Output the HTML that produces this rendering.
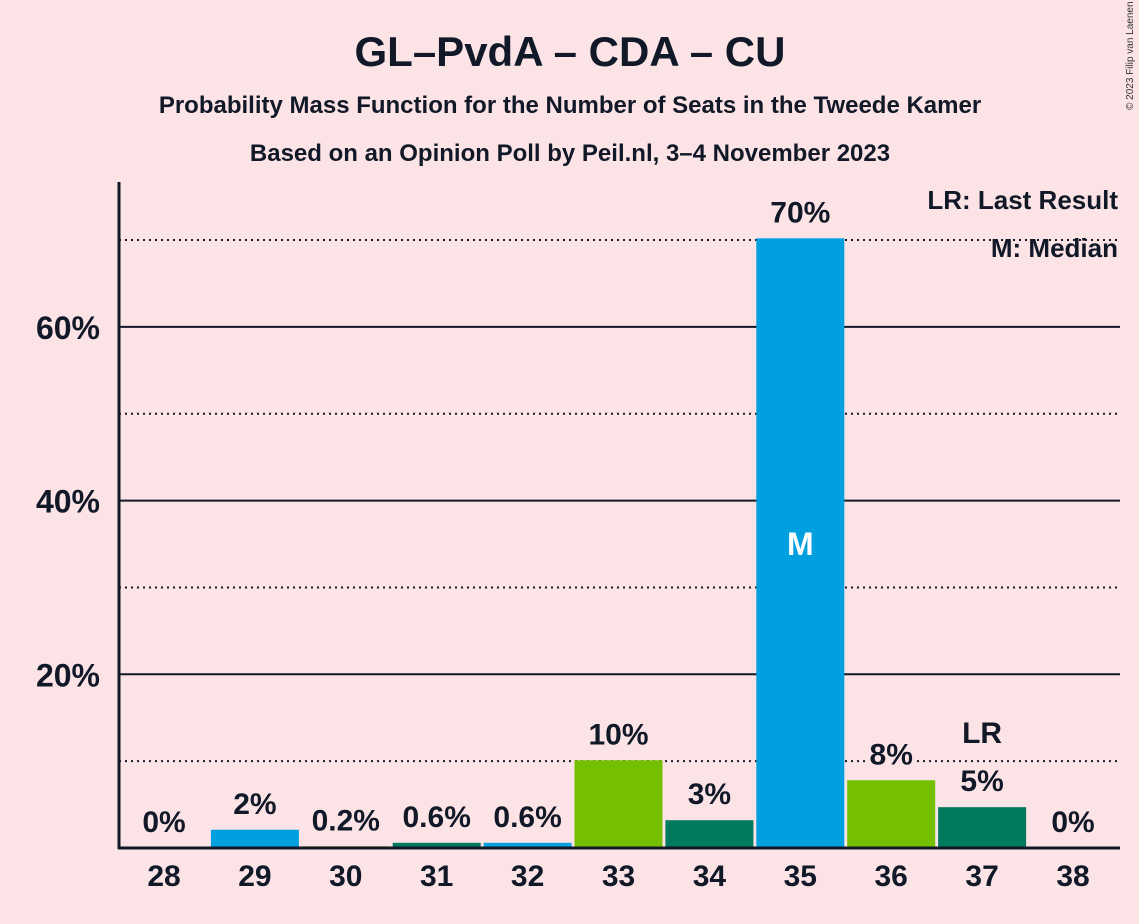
<!DOCTYPE html>
<html><head><meta charset="utf-8"><style>
body{margin:0;background:#FCE4E6;}
svg{display:block;font-family:"Liberation Sans",sans-serif;}
</style></head><body>
<svg id="c" width="1139" height="924">
<rect width="1139" height="924" fill="#FCE4E6"/>
<text x="570" y="66" text-anchor="middle" font-size="42" font-weight="bold" fill="#111827">GL–PvdA – CDA – CU</text>
<text x="570" y="113" text-anchor="middle" font-size="24" font-weight="bold" fill="#111827">Probability Mass Function for the Number of Seats in the Tweede Kamer</text>
<text x="570" y="161" text-anchor="middle" font-size="24" font-weight="bold" fill="#111827">Based on an Opinion Poll by Peil.nl, 3–4 November 2023</text>
<text x="1133" y="110" font-size="10" fill="#333" transform="rotate(-90 1133 110)">© 2023 Filip van Laenen</text>
<g id="grid"></g><g id="bars"></g><g id="labels"></g>
<text x="1118" y="209" text-anchor="end" font-size="26" font-weight="bold" fill="#111827">LR: Last Result</text>
<text x="1118" y="257" text-anchor="end" font-size="26" font-weight="bold" fill="#111827">M: Median</text>
<line x1="119" y1="182" x2="119" y2="849" stroke="#111827" stroke-width="3"/>
<line x1="118" y1="848" x2="1120" y2="848" stroke="#111827" stroke-width="3"/>
</svg>
<script>
const categories=[28,29,30,31,32,33,34,35,36,37,38];
const values=[0,2.1,0.2,0.6,0.6,10.1,3.2,70.2,7.8,4.7,0];
const valueLabels=["0%","2%","0.2%","0.6%","0.6%","10%","3%","70%","8%","5%","0%"];
const colorKeys=["b","b","g","d","b","g","d","b","g","d","b"];
const yTicks=[20,40,60];
const yMinor=[10,30,50,70];
const medianSeat=35, lastResultSeat=37;
const colors={b:"#009FE0",g:"#73BF00",d:"#007A5E"};
const NS="http://www.w3.org/2000/svg";
const y=v=>848-v*8.685;
const x=i=>164+i*90.9;
function mk(t,a,p){const e=document.createElementNS(NS,t);for(const k in a)e.setAttribute(k,a[k]);document.getElementById(p).appendChild(e);return e;}
function labelWithBg(txt,cx,by,size){
 const t=mk("text",{x:cx,y:by,"text-anchor":"middle","font-size":size,"font-weight":"bold",fill:"#111827"},"labels");t.textContent=txt;
 const bb=t.getBBox();
 const r=mk("rect",{x:bb.x-4,y:bb.y,width:bb.width+8,height:bb.height,fill:"#FCE4E6"},"labels");
 
 
 document.getElementById("labels").appendChild(t);
 return t;
}
yMinor.forEach(v=>{const l=mk("line",{x1:119,x2:1120,y1:y(v),y2:y(v),stroke:"#111827","stroke-width":2,"stroke-dasharray":"2 4"},"grid");

});
yTicks.forEach(v=>{const l=mk("line",{x1:119,x2:1120,y1:y(v),y2:y(v),stroke:"#111827","stroke-width":2},"grid");


const t=mk("text",{x:100,y:y(v)+12,"text-anchor":"end","font-size":32,"font-weight":"bold",fill:"#111827"},"labels");t.textContent=v+"%";

});
categories.forEach((c,i)=>{
 if(values[i]>0){const r=mk("rect",{x:x(i)-44,y:y(values[i]),width:88,height:848-y(values[i]),fill:colors[colorKeys[i]]},"bars");
 
 }
 const t=labelWithBg(valueLabels[i],x(i),y(values[i])-16,30);
 
 
 const xl=mk("text",{x:x(i),y:886,"text-anchor":"middle","font-size":30,"font-weight":"bold",fill:"#111827"},"labels");xl.textContent=c;
 
 
 if(c===medianSeat){const m=mk("text",{x:x(i),y:(y(values[i])+848)/2+12,"text-anchor":"middle","font-size":32,"font-weight":"bold",fill:"#fff"},"labels");m.textContent="M";
 
 }
 if(c===lastResultSeat){const m=labelWithBg("LR",x(i),y(values[i])-64,30);
 
 }
});
</script>
</body></html>
